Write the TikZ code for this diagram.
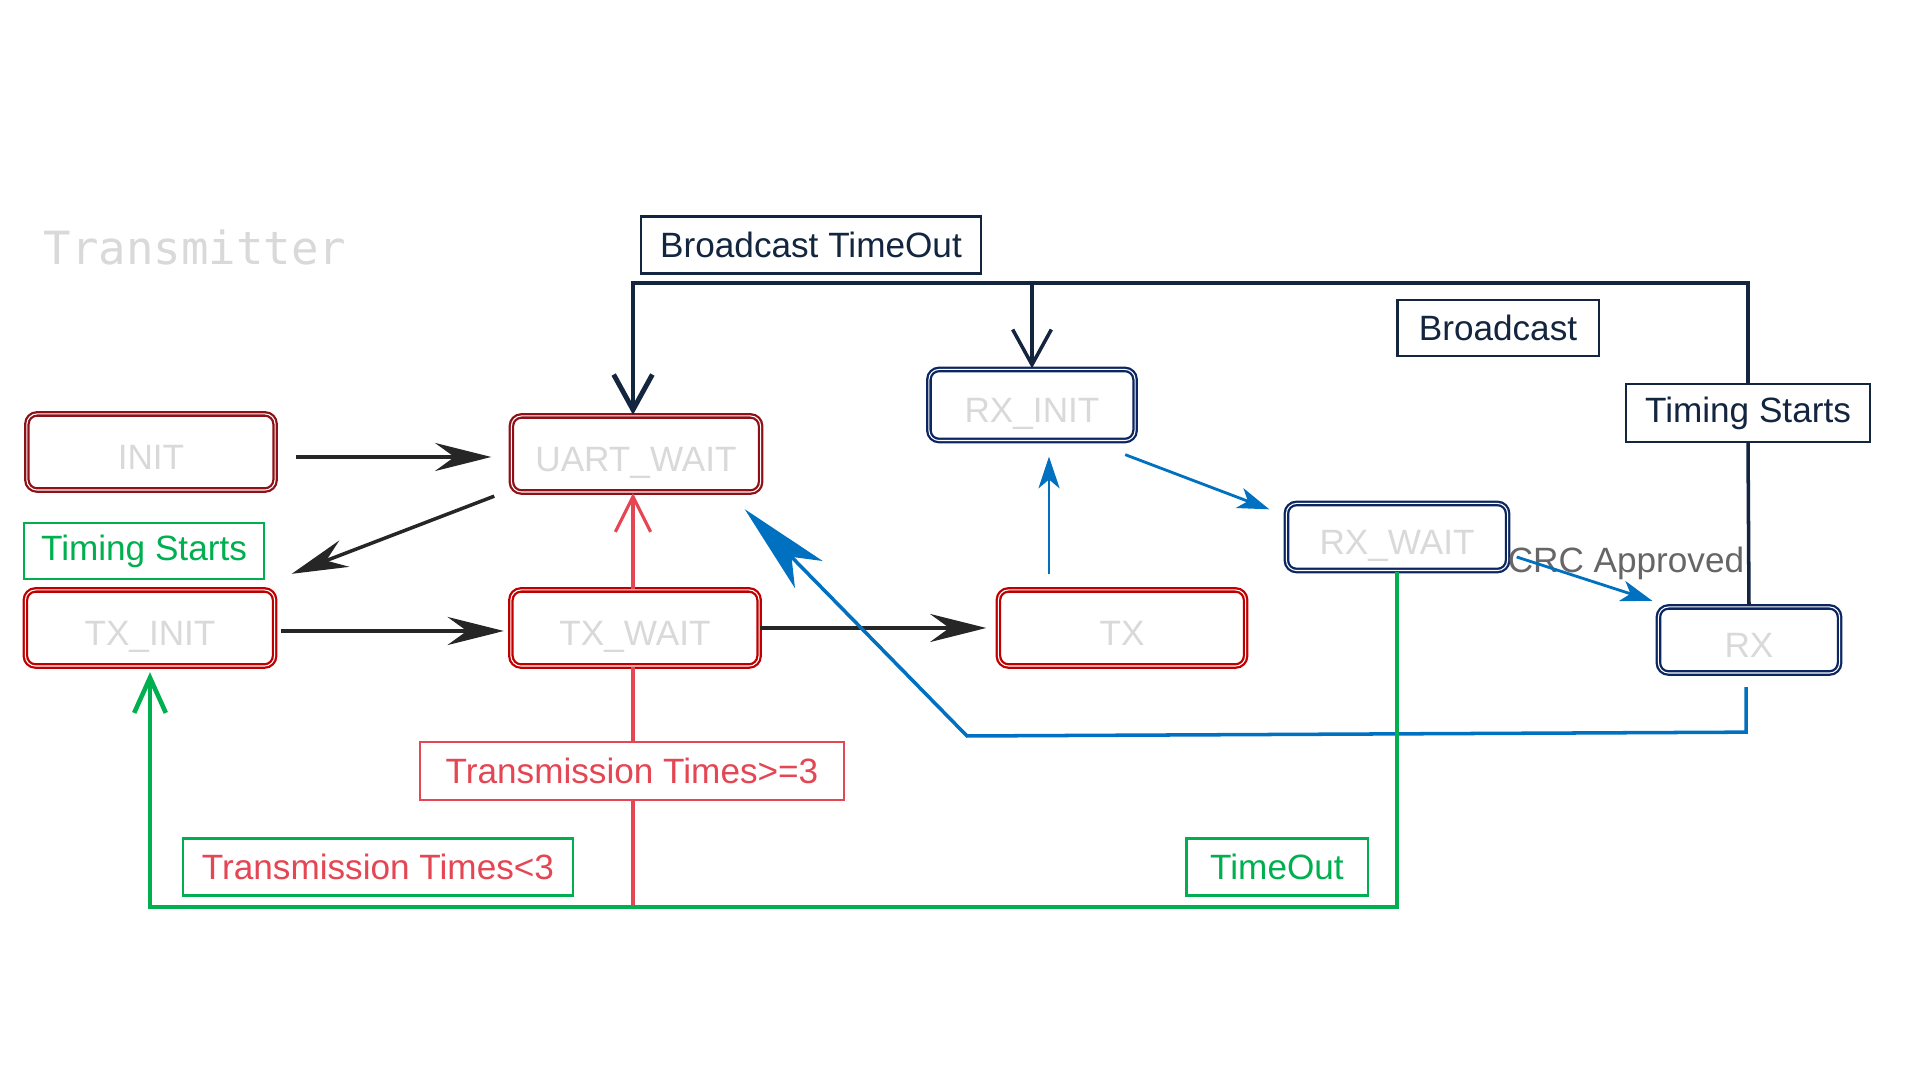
\documentclass[tikz,border=0pt]{standalone}
\usepackage{fontspec}
\setmainfont{Liberation Sans}
\newfontfamily\monofont{DejaVu Sans Mono}
\usetikzlibrary{arrows.meta}

\definecolor{initred}{HTML}{8E1118}
\definecolor{txred}{HTML}{C00000}
\definecolor{rxnavy}{HTML}{0B2660}
\definecolor{linenavy}{HTML}{13253F}
\definecolor{linered}{HTML}{E44653}
\definecolor{linegreen}{HTML}{00B050}
\definecolor{lineblue}{HTML}{0070C0}
\definecolor{statetext}{HTML}{D9D9D9}
\definecolor{crcgrey}{HTML}{666666}
\definecolor{arrowgrey}{HTML}{262626}

\begin{document}
\begin{tikzpicture}[x=0.01cm,y=-0.01cm,
  state/.style={draw,fill=white,double=white,double distance=0.3pt,line width=0.65pt,
    rounded corners=0.1cm,text=statetext,text height=1em,text depth=0pt,
    font=\fontsize{10}{12}\selectfont},
  tag/.style={draw,fill=white,line width=0.6pt,inner sep=0pt,minimum height=0.57cm,
    font=\fontsize{10}{12}\selectfont},
  blackarrow/.style={draw=arrowgrey,line width=1pt,-{Stealth[length=16pt,width=8pt,inset=5.5pt]}},
  bluearrow/.style={draw=lineblue,line width=0.8pt,-{Stealth[length=9pt,width=6pt,inset=2.5pt]}},
  bluebig/.style={draw=lineblue,line width=1pt,-{Stealth[length=26pt,width=11pt,inset=7pt]}},
  navyline/.style={draw=linenavy,line width=1pt},
  navyarrow/.style={navyline,-{Straight Barb[length=10pt,width=11pt]}},
  redline/.style={draw=linered,line width=0.9pt},
  redarrow/.style={redline,-{Straight Barb[length=10pt,width=10pt]}},
  greenarrow/.style={draw=linegreen,line width=1.3pt,-{Straight Barb[length=10pt,width=9pt]}}]

\useasboundingbox (0,0) rectangle (1920,1080);

\node[anchor=west,inner sep=0pt,text=statetext,font=\monofont\fontsize{13}{15}\selectfont] (title) at (43,247) {Transmitter};

% states
\node[state,draw=initred,minimum width=2.48cm,minimum height=0.76cm] (init) at (151,452) {INIT};
\node[state,draw=initred,minimum width=2.49cm,minimum height=0.76cm] (uart) at (636,454) {UART\_WAIT};
\node[state,draw=txred,minimum width=2.49cm,minimum height=0.76cm] (txinit) at (150,628) {TX\_INIT};
\node[state,draw=txred,minimum width=2.48cm,minimum height=0.76cm] (txwait) at (635,628) {TX\_WAIT};
\node[state,draw=txred,minimum width=2.47cm,minimum height=0.76cm] (tx) at (1122,628) {TX};
\node[state,draw=rxnavy,minimum width=2.06cm,minimum height=0.71cm] (rxinit) at (1032,405) {RX\_INIT};
\node[state,draw=rxnavy,minimum width=2.21cm,minimum height=0.67cm] (rxwait) at (1397,537) {RX\_WAIT};
\node[state,draw=rxnavy,minimum width=1.81cm,minimum height=0.66cm] (rx) at (1749,640) {RX};

% conditions
\node[tag,draw=linenavy,text=linenavy,minimum width=3.39cm] (bto) at (811,245) {Broadcast TimeOut};
\node[tag,draw=linenavy,text=linenavy,minimum width=2.01cm,minimum height=0.56cm] (bcast) at (1498,328) {Broadcast};
\node[tag,draw=linenavy,text=linenavy,minimum width=2.44cm,minimum height=0.58cm] (tsnavy) at (1748,413) {Timing Starts};
\node[tag,draw=linegreen,text=linegreen,minimum width=2.40cm,minimum height=0.56cm] (tsgreen) at (144,551) {Timing Starts};
\node[tag,draw=linered,text=linered,minimum width=4.23cm,minimum height=0.58cm] (ttmax) at (632,771) {Transmission Times>=3};
\node[tag,draw=linegreen,text=linered,minimum width=3.89cm] (ttless) at (378,867) {Transmission Times<3};
\node[tag,draw=linegreen,text=linegreen,minimum width=1.81cm] (timeout) at (1277,867) {TimeOut};
\node[text=crcgrey,inner sep=0pt,font=\fontsize{10}{12}\selectfont] (crc) at (1626,563) {CRC Approved};

\coordinate (topleft) at (633,283);
\coordinate (rail) at (633,907);
\coordinate (bluekink) at (967,736);
\coordinate (rxinitin) at ([xshift=0.17cm]rxinit.south);

% transmitter side
\draw[blackarrow] ([shift={(20,5)}]init.east) -- ([shift={(-19,3)}]uart.west);
\draw[blackarrow] ([shift={(-16,3)}]uart.south west) -- ([shift={(16,-15)}]txinit.north east);
\draw[blackarrow] ([shift={(5,3)}]txinit.east) -- ([shift={(-6,3)}]txwait.west);
\draw[blackarrow,shorten >=0.11cm] (txwait.east) -- (tx.west);

% receiver side
\draw[bluearrow,shorten <=0.15cm,shorten >=0.15cm] (tx.north -| rxinitin) -- (rxinitin);
\draw[bluearrow] ([shift={(-11,13)}]rxinit.south east) -- ([shift={(-16,7)}]rxwait.north west);
\draw[bluearrow] ([shift={(8,20)}]rxwait.east) -- ([shift={(-5,-5)}]rx.north west);
\draw[bluebig] ([shift={(-3,13)}]rx.south) -- ++(0,45) -- (bluekink) -- ([shift={(-17,16)}]uart.south east);

% broadcast timeout
\draw[navyline] (rx.north) -- (tsnavy.south);
\draw[navyarrow,line width=1.4pt] (tsnavy.north) |- (topleft) -- (topleft |- uart.north);
\draw[navyarrow] (rxinit.north |- topleft) -- (rxinit.north);

% retries and timeout
\draw[redline] (rail) -- (rail |- ttmax.south);
\draw[redline] (rail |- ttmax.north) -- (rail |- txwait.south);
\draw[redarrow] (rail |- txwait.north) -- (rail |- uart.south);
\draw[greenarrow,shorten >=0.05cm] (rxwait.south) |- (rail) -| (txinit.south);
\end{tikzpicture}
\end{document}
